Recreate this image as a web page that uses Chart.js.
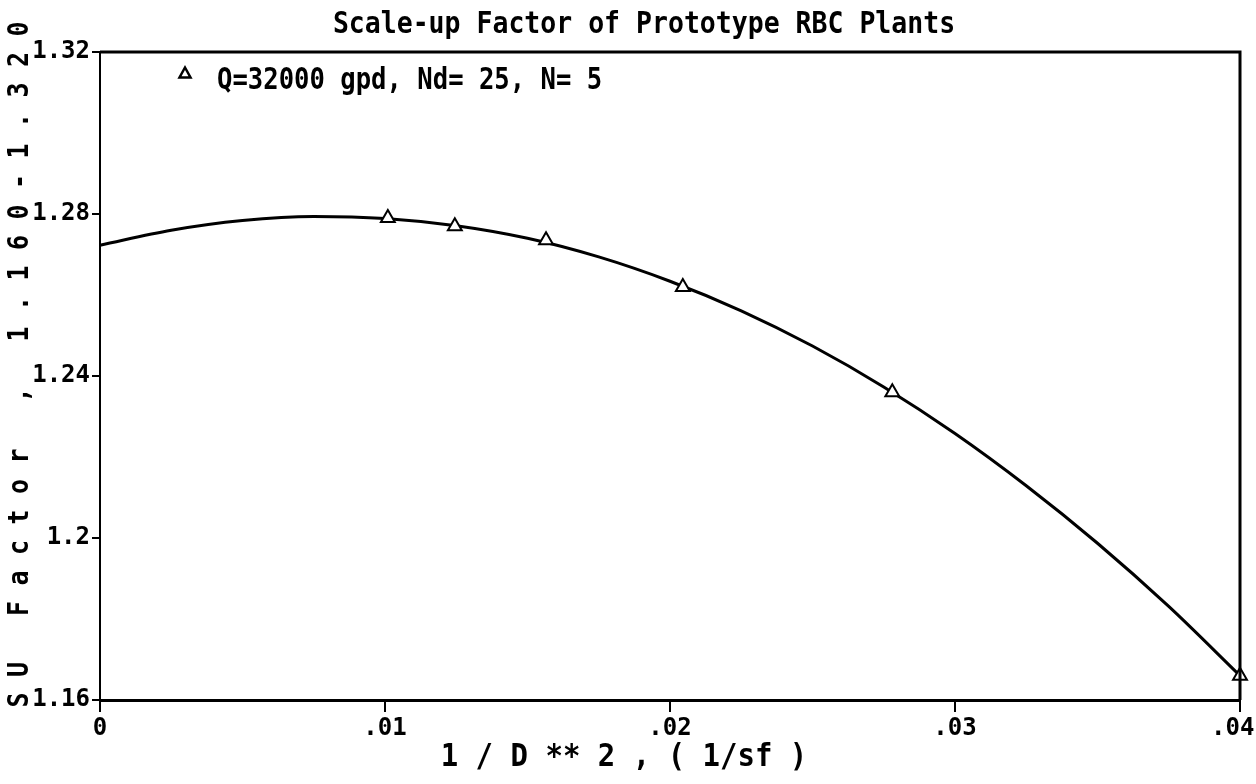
<!DOCTYPE html>
<html>
<head>
<meta charset="utf-8">
<title>Scale-up Factor of Prototype RBC Plants</title>
<script src="https://cdn.jsdelivr.net/npm/chart.js@4/dist/chart.umd.min.js"></script>
<style>
  html, body { margin: 0; padding: 0; background: #fff; }
  canvas { display: block; }
</style>
</head>
<body>
<canvas id="c" width="1256" height="784"></canvas>
<script>
// Measured runs: 1/D^2 (1/sf) against scale-up factor
const pointX = [0.0101, 0.01245, 0.01565, 0.02045, 0.0278, 0.0400];
const pointY = [1.2790, 1.2770, 1.2735, 1.2620, 1.2360, 1.1660];

// Fitted curve through the runs
const curveX = [0, 0.0025, 0.005, 0.0075, 0.01, 0.0125, 0.015, 0.0175, 0.02,
                0.0225, 0.025, 0.0275, 0.03, 0.0325, 0.035, 0.0375, 0.04];
const curveY = [1.2723, 1.2760, 1.2784, 1.2794, 1.2789, 1.2771, 1.2740, 1.2694, 1.2634,
                1.2561, 1.2474, 1.2373, 1.2258, 1.2129, 1.1987, 1.1831, 1.1660];

const xTickValues = [0, 0.01, 0.02, 0.03, 0.04];
const xTickLabels = ['0', '.01', '.02', '.03', '.04'];
const yTickValues = [1.16, 1.20, 1.24, 1.28, 1.32];
const yTickLabels = ['1.16', '1.2', '1.24', '1.28', '1.32'];

const chartTitle = 'Scale-up Factor of Prototype RBC Plants';
const xTitle = '1 / D ** 2 , ( 1/sf )';
const yTitle = 'SU Factor , 1.160-1.320';
const seriesLabel = 'Q=32000 gpd, Nd= 25, N= 5';

const MONO = '"DejaVu Sans Mono", "Liberation Mono", monospace';

const toXY = (xs, ys) => xs.map((x, i) => ({ x: x, y: ys[i] }));

// Tall, narrow lettering: draw text stretched vertically about its centre
function tallText(ctx, text, x, y, size, stretch, align) {
  ctx.save();
  ctx.font = 'bold ' + size + 'px ' + MONO;
  ctx.textAlign = align;
  ctx.textBaseline = 'middle';
  ctx.translate(x, y);
  ctx.scale(1, stretch);
  ctx.fillText(text, 0, 0);
  ctx.restore();
}

// Title, axis titles, in-plot legend and the frame round the plot area
const decorations = {
  id: 'decorations',
  afterDatasetsDraw(chart) {
    const ctx = chart.ctx;
    const a = chart.chartArea;
    ctx.save();
    ctx.strokeStyle = '#000';
    ctx.lineWidth = 3;
    ctx.beginPath();
    ctx.moveTo(a.left, a.top);
    ctx.lineTo(a.right, a.top);
    ctx.lineTo(a.right, a.bottom);
    ctx.stroke();
    ctx.restore();
  },
  afterDraw(chart) {
    const ctx = chart.ctx;
    ctx.save();
    ctx.fillStyle = '#000';

    tallText(ctx, chartTitle, 644, 25, 26.5, 1.15, 'center');
    tallText(ctx, xTitle, 624, 758, 29, 1.1, 'center');

    // y title, one glyph at a time with wide spacing, reading upwards
    const step = 30.5;
    for (let i = 0; i < yTitle.length; i++) {
      ctx.save();
      ctx.translate(21, 700 - i * step);
      ctx.rotate(-Math.PI / 2);
      ctx.scale(1, 1.1);
      ctx.font = 'bold 25px ' + MONO;
      ctx.textAlign = 'center';
      ctx.textBaseline = 'middle';
      ctx.fillText(yTitle[i], 0, 0);
      ctx.restore();
    }

    // legend entry inside the plot
    const ds = chart.data.datasets[0];
    ctx.strokeStyle = '#000';
    ctx.lineWidth = 2.5;
    ctx.fillStyle = '#fff';
    const tx = 185, ty = 73, r = 5.5;
    ctx.beginPath();
    ctx.moveTo(tx, ty - r);
    ctx.lineTo(tx + r, ty + r * 0.8);
    ctx.lineTo(tx - r, ty + r * 0.8);
    ctx.closePath();
    ctx.fill();
    ctx.stroke();
    ctx.fillStyle = '#000';
    tallText(ctx, ds.label, 217, 81, 25.6, 1.15, 'left');
    ctx.restore();
  }
};

new Chart(document.getElementById('c'), {
  type: 'scatter',
  data: {
    datasets: [
      {
        label: seriesLabel,
        data: toXY(pointX, pointY),
        pointStyle: 'triangle',
        pointRadius: 8,
        pointBorderWidth: 2,
        pointBorderColor: '#000',
        pointBackgroundColor: '#fff',
        showLine: false,
        clip: false
      },
      {
        label: 'fit',
        data: toXY(curveX, curveY),
        showLine: true,
        borderColor: '#000',
        borderWidth: 3,
        pointRadius: 0,
        tension: 0.4,
        cubicInterpolationMode: 'monotone',
        clip: false
      }
    ]
  },
  options: {
    responsive: false,
    devicePixelRatio: 1,
    animation: false,
    layout: { padding: { top: 52, right: 16, left: 0, bottom: 0 } },
    plugins: {
      legend: { display: false },
      title: { display: false },
      tooltip: { enabled: false }
    },
    scales: {
      x: {
        type: 'linear',
        min: 0,
        max: 0.04,
        afterBuildTicks(scale) { scale.ticks = xTickValues.map(v => ({ value: v })); },
        afterFit(scale) {
          scale.height = 84;
          scale.paddingRight = 0;
        },
        ticks: {
          color: '#000',
          font: { family: MONO, size: 24, weight: 'bold' },
          padding: 2,
          maxRotation: 0,
          autoSkip: false,
          // the last label sits against the right edge, so pad it to pull it inward
          callback: (v, i) => (i === xTickLabels.length - 1 ? xTickLabels[i] + ' ' : xTickLabels[i])
        },
        grid: { drawOnChartArea: false, drawTicks: true, tickLength: 12, color: '#000', lineWidth: 2 },
        border: { display: true, color: '#000', width: 3 },
        title: { display: false }
      },
      y: {
        type: 'linear',
        min: 1.16,
        max: 1.32,
        afterBuildTicks(scale) { scale.ticks = yTickValues.map(v => ({ value: v })); },
        afterFit(scale) { scale.width = 100; },
        ticks: {
          color: '#000',
          font: { family: MONO, size: 24, weight: 'bold' },
          padding: 2,
          autoSkip: false,
          callback: (v, i) => yTickLabels[i]
        },
        grid: { drawOnChartArea: false, drawTicks: true, tickLength: 8, color: '#000', lineWidth: 2 },
        border: { display: true, color: '#000', width: 2 },
        title: { display: false }
      }
    }
  },
  plugins: [decorations]
});
</script>
</body>
</html>
